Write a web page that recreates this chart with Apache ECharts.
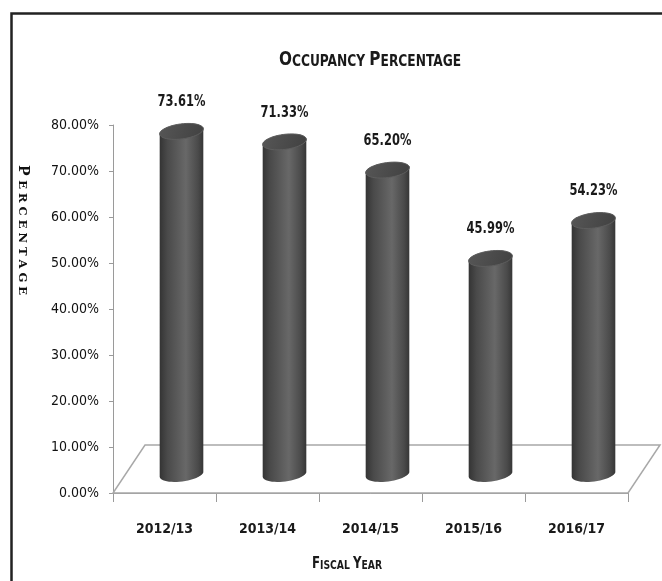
<!DOCTYPE html>
<html><head><meta charset="utf-8">
<script src="https://cdn.jsdelivr.net/npm/echarts@6/dist/echarts.min.js"></script>
<style>html,body{margin:0;padding:0;background:#fff}#c{width:662px;height:581px}</style>
</head><body><div id="c"></div>
<script>
// ---- data ----
const categories = ['2012/13', '2013/14', '2014/15', '2015/16', '2016/17'];
const occupancy = [0.7361, 0.7133, 0.6520, 0.4599, 0.5423];
const yMin = 0, yMax = 0.8, yStep = 0.1;
const titleCaps = ['O', 'CCUPANCY', 'P', 'ERCENTAGE'];
const yNameCaps = ['P', 'ERCENTAGE'];
const xNameCaps = ['F', 'ISCAL', 'Y', 'EAR'];

const FONT = "'Liberation Sans Narrow','DejaVu Sans Condensed','Arial Narrow',sans-serif";
const SERIF = "'DejaVu Serif','Liberation Serif',serif";

function ellipsePts(cx, cy, rx, ry, a, t0, t1, n) {
  const pts = [];
  for (let k = 0; k <= n; k++) {
    const t = t0 + (t1 - t0) * k / n;
    pts.push([cx + rx * Math.cos(t) * Math.cos(a) - ry * Math.sin(t) * Math.sin(a),
              cy + rx * Math.cos(t) * Math.sin(a) + ry * Math.sin(t) * Math.cos(a)]);
  }
  return pts;
}

const DX = 17, DY_TOP = -23, DY_BOT = -19, RX = 22, RY = 7.5, ANG = -0.13;
const FLOOR_DX = 32, FLOOR_DY = -48;

function renderCyl(params, api) {
  const i = api.value(0), v = api.value(1);
  const f0 = api.coord([i, 0]), f1 = api.coord([i, v]);
  const bx = f0[0] + DX, by = f0[1] + DY_BOT;
  const tx = f1[0] + DX, ty = f1[1] + DY_TOP;
  const top = ellipsePts(tx, ty, RX, RY, ANG, Math.PI, 2 * Math.PI, 24);
  const bot = ellipsePts(bx, by, RX, RY, ANG, 0, Math.PI, 24);
  const body = top.concat(bot);
  const cap = ellipsePts(tx, ty, RX, RY, ANG, 0, 2 * Math.PI, 48);
  return {
    type: 'group',
    children: [
      { type: 'polygon', shape: { points: body },
        style: { fill: { type: 'linear', x: 0, y: 0, x2: 1, y2: 0, colorStops: [
          { offset: 0, color: '#343434' }, { offset: 0.18, color: '#4a4a4a' },
          { offset: 0.6, color: '#686868' }, { offset: 0.88, color: '#4a4a4a' },
          { offset: 1, color: '#363636' }] } } },
      { type: 'polygon', shape: { points: cap },
        style: { fill: { type: 'linear', x: 0, y: 0, x2: 1, y2: 1, colorStops: [
          { offset: 0, color: '#575757' }, { offset: 1, color: '#404040' }] },
          stroke: '#5e5e5e', lineWidth: 1 } },
      { type: 'text', x: tx, y: ty - 29, scaleX: 0.85,
        style: { text: (v * 100).toFixed(2) + '%', fontFamily: FONT, fontSize: 15, fontWeight: 'bold',
                 fill: '#1a1a1a', align: 'center', verticalAlign: 'middle' } }
    ]
  };
}

function renderFloor(params, api) {
  const c0 = api.coord([0, 0]);
  const cN = api.coord([categories.length - 1, 0]);
  const bw = api.size([1, 0])[0];
  const FL = [c0[0] - bw / 2, c0[1]], FR = [cN[0] + bw / 2, c0[1]];
  const BR = [FR[0] + FLOOR_DX, FR[1] + FLOOR_DY], BL = [FL[0] + FLOOR_DX, FL[1] + FLOOR_DY];
  return { type: 'polygon', shape: { points: [FL, FR, BR, BL] },
           style: { fill: '#ffffff', stroke: '#a8a8a8', lineWidth: 1.5 } };
}

function spaced(s) { return s.split('').join(' '); }

const chart = echarts.init(document.getElementById('c'), null, { renderer: 'canvas' });
chart.setOption({
  backgroundColor: '#ffffff',
  animation: false,
  grid: { left: 113, right: 34, top: 125, bottom: 88, containLabel: false, outerBoundsMode: 'none' },
  xAxis: {
    type: 'category', data: categories,
    axisLine: { show: true, lineStyle: { color: '#9a9a9a', width: 1 } },
    axisTick: { show: true, length: 9, lineStyle: { color: '#9a9a9a' } },
    axisLabel: { margin: 29, fontFamily: FONT, fontSize: 14, fontWeight: 'bold', color: '#1a1a1a' },
    splitLine: { show: false }
  },
  yAxis: {
    type: 'value', min: yMin, max: yMax, interval: yStep,
    axisLine: { show: true, lineStyle: { color: '#9a9a9a', width: 1 } },
    axisTick: { show: true, length: 4, lineStyle: { color: '#9a9a9a' } },
    axisLabel: { margin: 14, fontFamily: FONT, fontSize: 14, color: '#111',
                 formatter: v => (v * 100).toFixed(2) + '%' },
    splitLine: { show: false }
  },
  series: [
    { type: 'custom', z: 1, clip: false, renderItem: renderFloor, data: [[0, 0]], silent: true },
    { type: 'custom', z: 3, clip: false, renderItem: renderCyl,
      data: occupancy.map((v, i) => [i, v]) }
  ],
  graphic: [
    { type: 'rect', left: 9, top: 11, z: 10, silent: true,
      shape: { width: 700, height: 700 }, style: { fill: 'none', stroke: '#222', lineWidth: 2.5 } },
    { type: 'text', x: 370, y: 60, z: 10, scaleX: 0.85,
      style: { text: '{a|' + titleCaps[0] + '}{b|' + titleCaps[1] + ' }{a|' + titleCaps[2] + '}{b|' + titleCaps[3] + '}',
               align: 'center', verticalAlign: 'middle',
               rich: { a: { fontFamily: FONT, fontSize: 20, fontWeight: 'bold', fill: '#1a1a1a', verticalAlign: 'bottom' },
                       b: { fontFamily: FONT, fontSize: 16, fontWeight: 'bold', fill: '#1a1a1a', verticalAlign: 'bottom' } } } },
    { type: 'text', x: 347, y: 564, z: 10, scaleX: 0.82,
      style: { text: '{a|' + xNameCaps[0] + '}{b|' + xNameCaps[1] + ' }{a|' + xNameCaps[2] + '}{b|' + xNameCaps[3] + '}',
               align: 'center', verticalAlign: 'middle',
               rich: { a: { fontFamily: FONT, fontSize: 16, fontWeight: 'bold', fill: '#1a1a1a', verticalAlign: 'bottom' },
                       b: { fontFamily: FONT, fontSize: 12.5, fontWeight: 'bold', fill: '#1a1a1a', verticalAlign: 'bottom' } } } },
    { type: 'text', x: 23, y: 230, z: 10, rotation: -Math.PI / 2,
      style: { text: '{a|' + yNameCaps[0] + ' }{b|' + spaced(yNameCaps[1]) + '}',
               align: 'center', verticalAlign: 'middle',
               rich: { a: { fontFamily: SERIF, fontSize: 14, fontWeight: 'bold', fill: '#111', verticalAlign: 'bottom' },
                       b: { fontFamily: SERIF, fontSize: 11.5, fontWeight: 'bold', fill: '#111', verticalAlign: 'bottom' } } } }
  ]
});
</script></body></html>
